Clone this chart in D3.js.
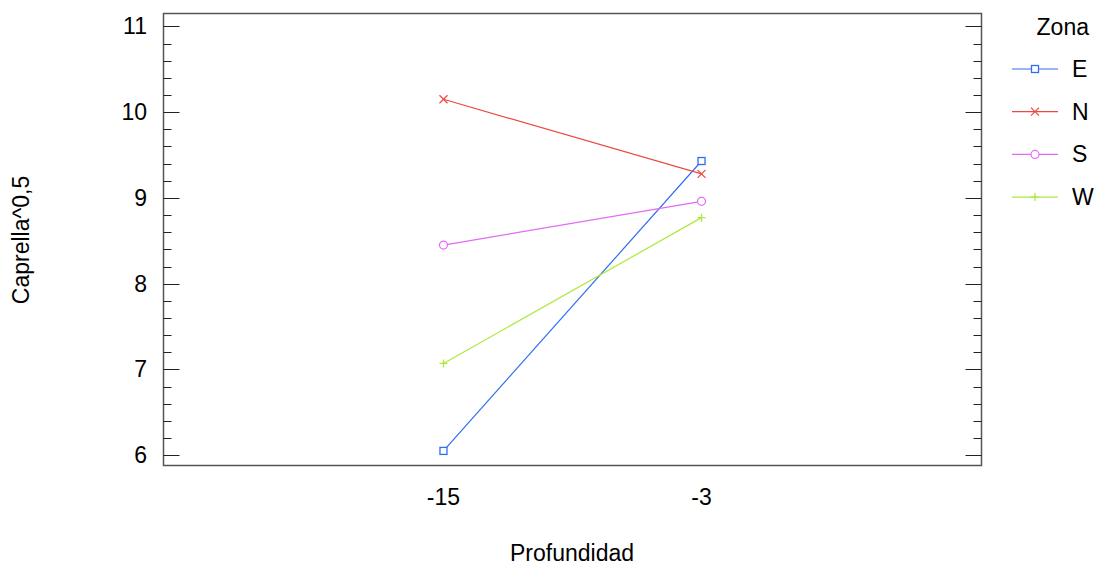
<!DOCTYPE html>
<html>
<head>
<meta charset="utf-8">
<script src="https://cdn.jsdelivr.net/npm/d3@7"></script>
<style>
  body { margin: 0; background: white; }
  svg text { font-family: "Liberation Sans", Arial, sans-serif; }
</style>
</head>
<body>
<svg id="chart" width="1098" height="565"></svg>
<script>
// data
var depths = [-15, -3]
var zones = ['E', 'N', 'S', 'W']
var valE = [6.05, 9.43]
var valN = [10.15, 9.28]
var valS = [8.45, 8.96]
var valW = [7.07, 8.77]
var yTicks = [6, 7, 8, 9, 10, 11]

var series = [
  {zone: 'E', vals: valE, color: '#2f6ef0', sym: 'square'},
  {zone: 'N', vals: valN, color: '#ec4a40', sym: 'x'},
  {zone: 'S', vals: valS, color: '#e36af5', sym: 'circle'},
  {zone: 'W', vals: valW, color: '#afe83c', sym: 'plus'}
]

var svg = d3.select('#chart')
var pLeft = 163.5, pRight = 981.5, pTop = 13.5, pBottom = 465.5
var fs = '23px'

var x = d3.scalePoint().domain(depths).range([pLeft, pRight]).padding(1.085)
var y = d3.scaleLinear().domain([5.88, 11.15]).range([pBottom, pTop])

// frame
svg.append('rect')
  .attr('x', pLeft).attr('y', pTop)
  .attr('width', pRight - pLeft).attr('height', pBottom - pTop)
  .attr('fill', 'none').attr('stroke', '#555').attr('stroke-width', 1.5)

// ticks on both sides
var minor = d3.range(6, 11.001, 0.2)
minor.forEach(function(v){
  var isMajor = Math.abs(v - Math.round(v)) < 1e-6
  var len = isMajor ? 16 : 8
  var yy = Math.round(y(v)) + 0.5
  svg.append('line').attr('x1', pLeft).attr('x2', pLeft + len).attr('y1', yy).attr('y2', yy)
    .attr('stroke', '#222').attr('stroke-width', 1)
  svg.append('line').attr('x1', pRight - len).attr('x2', pRight).attr('y1', yy).attr('y2', yy)
    .attr('stroke', '#222').attr('stroke-width', 1)
})

// y labels
svg.selectAll('.ylab').data(yTicks).enter().append('text')
  .attr('class', 'ylab')
  .attr('x', 147).attr('y', function(d){ return y(d) + 8 })
  .attr('text-anchor', 'end').style('font-size', fs).text(function(d){ return d })

// x labels
svg.selectAll('.xlab').data(depths).enter().append('text')
  .attr('class', 'xlab')
  .attr('x', function(d){ return x(d) }).attr('y', 505)
  .attr('text-anchor', 'middle').style('font-size', fs).text(function(d){ return d })

svg.append('text').attr('x', 572).attr('y', 561).attr('text-anchor', 'middle')
  .style('font-size', fs).text('Profundidad')

svg.append('text').attr('transform', 'translate(29,240) rotate(-90)').attr('text-anchor', 'middle')
  .style('font-size', fs).text('Caprella^0,5')

function drawSym(g, sym, cx, cy, color){
  if(sym == 'square'){
    g.append('rect').attr('x', cx - 3.5).attr('y', cy - 3.5).attr('width', 7).attr('height', 7)
      .attr('fill', 'white').attr('stroke', color).attr('stroke-width', 1.3)
  }else if(sym == 'circle'){
    g.append('circle').attr('cx', cx).attr('cy', cy).attr('r', 4)
      .attr('fill', 'white').attr('stroke', color).attr('stroke-width', 1.2)
  }else if(sym == 'x'){
    g.append('path').attr('d', 'M' + (cx-4) + ',' + (cy-4) + 'L' + (cx+4) + ',' + (cy+4) + 'M' + (cx-4) + ',' + (cy+4) + 'L' + (cx+4) + ',' + (cy-4))
      .attr('stroke', color).attr('stroke-width', 1.2)
  }else{
    g.append('path').attr('d', 'M' + (cx-4) + ',' + cy + 'L' + (cx+4) + ',' + cy + 'M' + cx + ',' + (cy-4) + 'L' + cx + ',' + (cy+4))
      .attr('stroke', color).attr('stroke-width', 1.3)
  }
}

var line = d3.line()
  .x(function(d, i){ return x(depths[i]) })
  .y(function(d){ return y(d) })

series.forEach(function(s){
  var g = svg.append('g')
  g.append('path').datum(s.vals).attr('d', line)
    .attr('fill', 'none').attr('stroke', s.color).attr('stroke-width', 1.2)
  s.vals.forEach(function(v, i){ drawSym(g, s.sym, x(depths[i]), y(v), s.color) })
})

// legend
svg.append('text').attr('x', 1089).attr('y', 35).attr('text-anchor', 'end')
  .style('font-size', fs).text('Zona')
series.forEach(function(s, i){
  var ly = 69 + i * 42.7
  var g = svg.append('g')
  g.append('line').attr('x1', 1012).attr('x2', 1058).attr('y1', ly).attr('y2', ly)
    .attr('stroke', s.color).attr('stroke-width', 1.2)
  drawSym(g, s.sym, 1035, ly, s.color)
  g.append('text').attr('x', 1072).attr('y', ly + 8).style('font-size', fs).text(s.zone)
})
</script>
</body>
</html>
